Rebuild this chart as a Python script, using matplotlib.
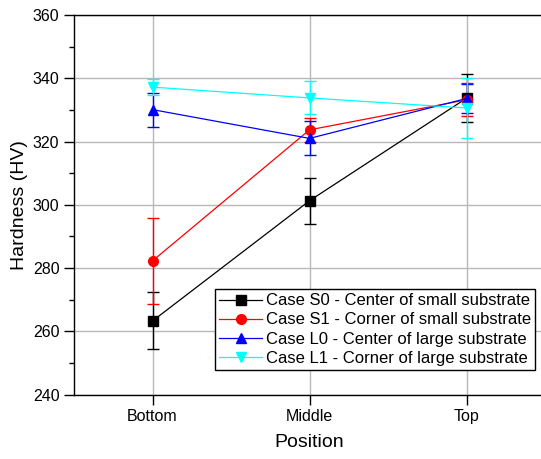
import matplotlib
matplotlib.use("Agg")
import matplotlib.pyplot as plt
from matplotlib.lines import Line2D
from matplotlib.ticker import MultipleLocator

plt.rcParams["font.family"] = ["Liberation Sans", "DejaVu Sans"]

positions = ["Bottom", "Middle", "Top"]

# hardness (HV) per measurement position, with standard deviation
s0_hv = [263.3, 301.3, 333.7]
s0_err = [9.0, 7.3, 7.6]
s1_hv = [282.3, 323.7, 333.2]
s1_err = [13.6, 3.8, 5.2]
l0_hv = [330.1, 321.0, 333.6]
l0_err = [5.4, 5.4, 4.5]
l1_hv = [337.2, 333.8, 330.6]
l1_err = [2.5, 5.2, 9.6]

series = [
    ("Case S0 - Center of small substrate", s0_hv, s0_err, "black", "s"),
    ("Case S1 - Corner of small substrate", s1_hv, s1_err, "red", "o"),
    ("Case L0 - Center of large substrate", l0_hv, l0_err, "blue", "^"),
    ("Case L1 - Corner of large substrate", l1_hv, l1_err, "cyan", "v"),
]

W, H = 541, 459
fig = plt.figure(figsize=(W / 100, H / 100), dpi=100)
# right edge of the frame sits just past the canvas
ax = fig.add_axes([74 / W, 1 - 394.7 / H, (545 - 74) / W, (394.7 - 15) / H])

x = list(range(1, len(positions) + 1))
handles = []
for label, vals, errs, color, marker in series:
    ax.errorbar(x, vals, yerr=errs, color=color, marker=marker, markersize=7,
                linewidth=0.9, elinewidth=1.0, capsize=4.3, capthick=1.0)
    # legend entries without the error bar glyph
    handles.append(Line2D([], [], color=color, marker=marker, markersize=7,
                          linewidth=0.9, label=label))

ax.set_xlim(0.5, 3.5)
ax.set_ylim(240, 360)
ax.set_xticks(x)
ax.set_xticklabels(positions)
ax.yaxis.set_major_locator(MultipleLocator(20))
ax.yaxis.set_minor_locator(MultipleLocator(10))
ax.tick_params(axis="both", which="major", direction="out", length=7,
               width=1.0, labelsize=11.5, colors="black")
ax.tick_params(axis="y", which="minor", direction="out", length=3.5, width=1.0)
ax.grid(True, which="major", color="#b8b8b8", linewidth=1.0)
ax.set_axisbelow(True)
for sp in ax.spines.values():
    sp.set_linewidth(1.0)

ax.set_xlabel("Position", fontsize=14, labelpad=7)
ax.set_ylabel("Hardness (HV)", fontsize=14, labelpad=3)

leg = ax.legend(handles=handles, loc="lower right",
                bbox_to_anchor=(535 / W, 1 - 370 / H),
                bbox_transform=fig.transFigure, borderaxespad=0,
                fontsize=12, fancybox=False, framealpha=1,
                edgecolor="black", handlelength=2.6, handletextpad=0.2,
                labelspacing=0.25, borderpad=0.25)
leg.get_frame().set_linewidth(1.0)

fig.savefig("out.png", dpi=100)
